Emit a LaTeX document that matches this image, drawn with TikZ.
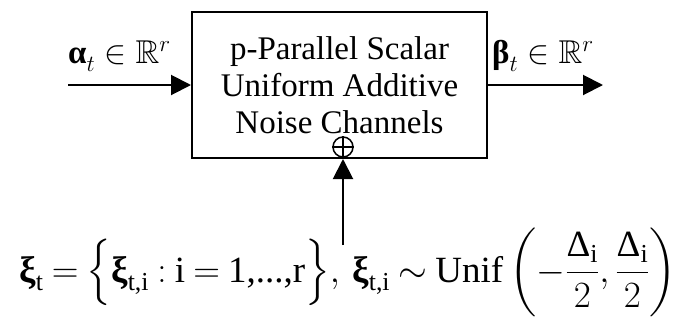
\RequirePackage{fix-cm}
\documentclass[tikz,border=0pt]{standalone}
\usepackage{amsmath}
\usepackage{amssymb}
\usepackage{fontspec}
\setmainfont{Liberation Serif}
\usepackage{tikz}
\usetikzlibrary{arrows.meta,positioning}

\tikzset{
  flow/.style={line width=2pt,-{Triangle[length=20pt,width=20pt]}},
  lbl/.style={font=\fontsize{33}{36}\selectfont,inner sep=0pt}
}
\newcommand{\bxi}{\text{\textbf{ξ}}}
\newcommand{\sdelta}{\text{Δ}_{\text{i}}}

\begin{document}
\begin{tikzpicture}[x=1pt,y=-1pt]
\useasboundingbox (0,0) rectangle (691,322);
% channel block
\node[draw,line width=2pt,minimum width=295pt,minimum height=146pt,align=center,
      font=\fontsize{33}{37}\selectfont] (chan) at (339.5,85)
      {p-Parallel Scalar\\Uniform Additive\\Noise Channels};
\node[draw,circle,line width=1.5pt,minimum size=20pt,inner sep=0pt] (sum) at (343,147) {};
\draw[line width=1.5pt] (sum.north) -- (sum.south) (sum.west) -- (sum.east);
% input, output, noise
\coordinate (in) at (68,85);
\coordinate (out) at (603,85);
\coordinate (noise) at (343,245);
\draw[flow] (in) -- (chan.west);
\draw[flow] (chan.east) -- (out);
\draw[flow] (noise) -- (noise |- chan.south);
\node[lbl,anchor=base west] (alpha) at (68,63) {\textbf{α}$_{\raisebox{-4pt}{$\scriptstyle t$}}\in\mathbb{R}^{r}$};
\node[lbl,anchor=base west] (beta) at (492,63) {\textbf{β}$_{\raisebox{-4pt}{$\scriptstyle t$}}\in\mathbb{R}^{r}$};
\node[anchor=base,inner sep=0pt,font=\fontsize{37}{40}\selectfont] (xi) at (348,282)
  {$\thickmuskip=4mu
   \bxi_{\text{t}}=\Bigl\{\bxi_{\text{t,i}}:\text{i}=\text{1,...,r}\Bigr\},\,
   \bxi_{\text{t,i}}\sim\text{Unif}\left(-\dfrac{\sdelta}{2},\dfrac{\sdelta}{2}\right)$};
\end{tikzpicture}
\end{document}
